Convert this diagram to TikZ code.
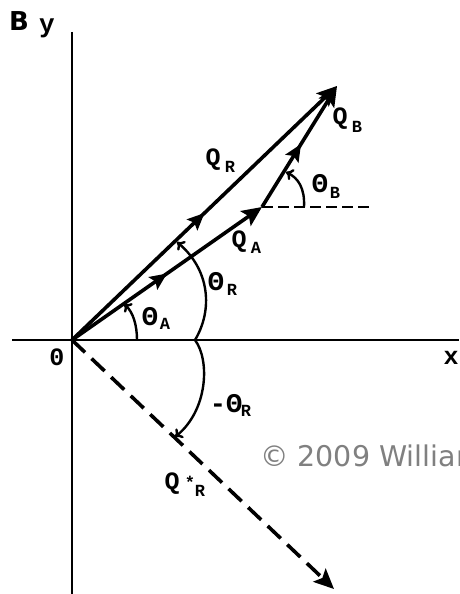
\documentclass[tikz,border=0pt]{standalone}
\usepackage{fontspec}
\newfontfamily\copyfont{DejaVu Sans}
\newfontfamily\bfont{DejaVu Sans Bold}
\newfontfamily\lblfont{Liberation Mono Bold}
\usetikzlibrary{arrows.meta,decorations.markings}
\tikzset{
  vec/.style={line width=3.6pt},
  axis/.style={line width=2.6pt},
  midarrow/.style={postaction={decorate},decoration={markings,mark=at position #1 with {\arrow{Stealth[length=17pt,width=15pt,inset=3pt]}}}},
  tip/.style={-{Stealth[length=20pt,width=18pt,inset=4pt]}},
  anglearc/.style={line width=2.4pt,-{To[length=7pt,width=12pt]}},
  lbl/.style={inner sep=0pt,font=\fontsize{25}{25}\lblfont},
  sub/.style={inner sep=0pt,font=\fontsize{17}{17}\lblfont},
  th/.style={inner sep=0pt,font=\fontsize{27}{27}\lblfont},
}
\begin{document}
\begin{tikzpicture}[x=1pt,y=-1pt]
\clip (0,0) rectangle (459,594);
\fill[white] (0,0) rectangle (459,594);
\coordinate (O) at (72,340);
\coordinate (ytop) at (72,32);
\coordinate (ybot) at (72,594);
\coordinate (xl) at (12,340);
\coordinate (xr) at (459,340);
\coordinate (A) at (262,207);
\coordinate (B) at (337,86);
\coordinate (S) at (334,589);
\coordinate (hd) at (372,207);
% axes
\draw[axis] (ytop) -- (ybot);
\draw[axis] (xl) -- (xr);
% vectors
\draw[vec,midarrow=0.5,tip] (O) -- (B);
\draw[vec,midarrow=0.5,tip] (O) -- (A);
\draw[vec,midarrow=0.52,tip] (A) -- (B);
\draw[line width=2.4pt,dash pattern=on 11pt off 5pt] (A) -- (hd);
\draw[line width=3.6pt,dash pattern=on 18pt off 9pt,tip] (O) -- (S);
% angle arcs
\coordinate (ta0) at (137,340);
\coordinate (ta1) at (124,304);
\draw[anglearc] (ta0) .. controls (137,325) and (133,312) .. (ta1);
\coordinate (tr0) at (195,340);
\coordinate (tr1) at (177,242);
\draw[anglearc] (tr0) .. controls (213,310) and (210,270) .. (tr1);
\coordinate (tn1) at (175,437);
\draw[anglearc] (tr0) .. controls (210,360) and (208,410) .. (tn1);
\coordinate (tb0) at (304,207);
\coordinate (tb1) at (286,172);
\draw[anglearc] (tb0) .. controls (305,188) and (298,178) .. (tb1);
% labels
\node[font=\fontsize{26}{26}\bfont,inner sep=0pt] (lB) at (19,21) {B};
\node[lbl,font=\fontsize{26}{26}\lblfont] (ly) at (47,28) {y};
\node[lbl] (l0) at (57,357) {0};
\node[lbl] (lx) at (451,358) {x};
\node[lbl] (qr) at (213,160) {Q};
\node[sub] (qrs) at (230,167) {R};
\node[lbl] (qa) at (239,242) {Q};
\node[sub] (qas) at (256,248) {A};
\node[lbl] (qb) at (340,119) {Q};
\node[sub] (qbs) at (357,127) {B};
\node[th] (tb) at (320,184) {Θ};
\node[sub] (tbs) at (335,193) {B};
\node[th] (ta) at (150,317) {Θ};
\node[sub] (tas) at (165,324) {A};
\node[th] (tr) at (216,282) {Θ};
\node[sub] (trs) at (232,290) {R};
\node[th] (tn) at (226,404) {-Θ};
\node[sub] (tns) at (246,411) {R};
\node[lbl] (qs) at (172,484) {Q};
\node[sub] (qss) at (190,482) {*};
\node[sub] (qsr) at (200,491) {R};
\node[anchor=west,inner sep=0pt,font=\fontsize{28.5}{28.5}\copyfont,text=black!50] (cp) at (260,456) {© 2009 William};
\end{tikzpicture}
\end{document}
